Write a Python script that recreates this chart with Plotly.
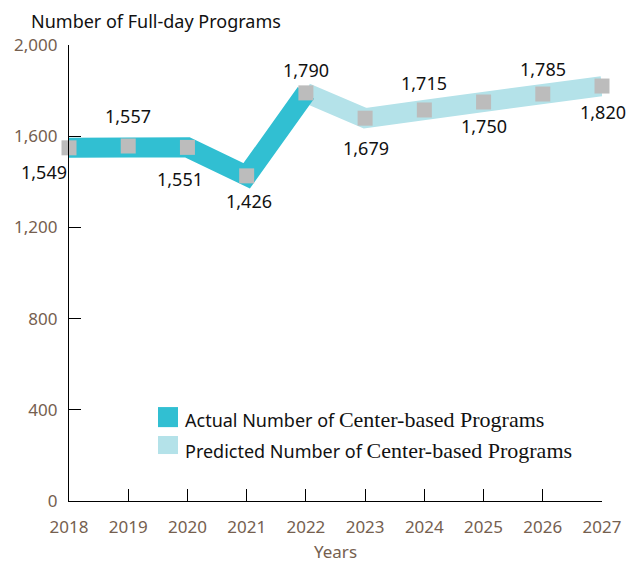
import plotly.graph_objects as go

years = [2018, 2019, 2020, 2021, 2022, 2023, 2024, 2025, 2026, 2027]
actual_years = [2018, 2019, 2020, 2021, 2022]
actual_vals = [1549, 1557, 1551, 1426, 1790]
pred_years = [2022, 2023, 2024, 2025, 2026, 2027]
pred_vals = [1790, 1679, 1715, 1750, 1785, 1820]
all_vals = [1549, 1557, 1551, 1426, 1790, 1679, 1715, 1750, 1785, 1820]
label_text = ["1,549", "1,557", "1,551", "1,426", "1,790", "1,679", "1,715", "1,750", "1,785", "1,820"]
y_ticks = [0, 400, 800, 1200, 1600, 2000]
y_tick_labels = ["0", "400", "800", "1,200", "1,600", "2,000"]

# label offsets (px) per point
offsets = [(-25, -24), (0, 30), (-7, -32), (2, -25), (0, 23), (1, -30), (0, 27), (0, -24), (0, 25), (1, -26)]

TEAL = "#31bfd2"
LIGHT = "#b4e2e9"
GRAY = "#bcbcbc"
BROWN = "#75604f"
FONT = "Noto Sans"

W, H = 629, 555  # page body has 8px margin

fig = go.Figure()
fig.add_trace(go.Scatter(x=pred_years, y=pred_vals, mode="lines",
                         line=dict(color=LIGHT, width=20), cliponaxis=False, showlegend=False))
fig.add_trace(go.Scatter(x=actual_years, y=actual_vals, mode="lines",
                         line=dict(color=TEAL, width=20), cliponaxis=False, showlegend=False))
fig.add_trace(go.Scatter(x=years, y=all_vals, mode="markers",
                         marker=dict(symbol="square", size=15, color=GRAY),
                         cliponaxis=False, showlegend=False))

for x, v, t, (dx, dy) in zip(years, all_vals, label_text, offsets):
    fig.add_annotation(x=x, y=v, text=t, showarrow=False, xshift=dx, yshift=dy,
                       font=dict(family=FONT, size=18, color="#111111"))

# title
fig.add_annotation(xref="paper", yref="paper", x=-0.075, y=1.053, xanchor="left", yanchor="middle",
                   text="Number of Full-day Programs", showarrow=False,
                   font=dict(family=FONT, size=18, color="#111111"))

# custom legend
fig.add_shape(type="rect", xref="paper", yref="paper", x0=0.167, x1=0.2045, y0=0.162, y1=0.206,
              fillcolor=TEAL, line=dict(width=0))
fig.add_shape(type="rect", xref="paper", yref="paper", x0=0.167, x1=0.2045, y0=0.103, y1=0.1425,
              fillcolor=LIGHT, line=dict(width=0))
serif = "font-family:'Liberation Serif', serif;font-size:22px"
fig.add_annotation(xref="paper", yref="paper", x=0.2135, y=0.178, xanchor="left", yanchor="middle",
                   showarrow=False,
                   text="Actual Number of <span style=\"" + serif + "\">Center-based Programs</span>",
                   font=dict(family=FONT, size=18, color="#111111"))
fig.add_annotation(xref="paper", yref="paper", x=0.2135, y=0.110, xanchor="left", yanchor="middle",
                   showarrow=False,
                   text="Predicted Number of <span style=\"" + serif + "\">Center-based Programs</span>",
                   font=dict(family=FONT, size=18, color="#111111"))

fig.update_layout(
    width=W, height=H,
    margin=dict(l=61, r=35, t=37, b=62, autoexpand=False),
    plot_bgcolor="white", paper_bgcolor="white",
    font=dict(family=FONT),
    xaxis=dict(range=[2018, 2027], tickvals=years, ticktext=[str(y) for y in years],
               automargin=False,
               showgrid=False, zeroline=False, showline=True, linecolor="black", linewidth=1.2,
               ticks="inside", ticklen=12, tickcolor="black", ticklabelstandoff=10,
               tickfont=dict(family=FONT, size=17, color=BROWN),
               title=dict(text="Years", font=dict(family=FONT, size=17, color=BROWN), standoff=10)),
    yaxis=dict(range=[0, 2000], tickvals=y_ticks, ticktext=y_tick_labels,
               automargin=False,
               showgrid=False, zeroline=False, showline=True, linecolor="black", linewidth=1.2,
               ticks="inside", ticklen=12, tickcolor="black", ticklabelstandoff=7,
               tickfont=dict(family=FONT, size=17, color=BROWN)),
)

fig.write_html("out.html")
